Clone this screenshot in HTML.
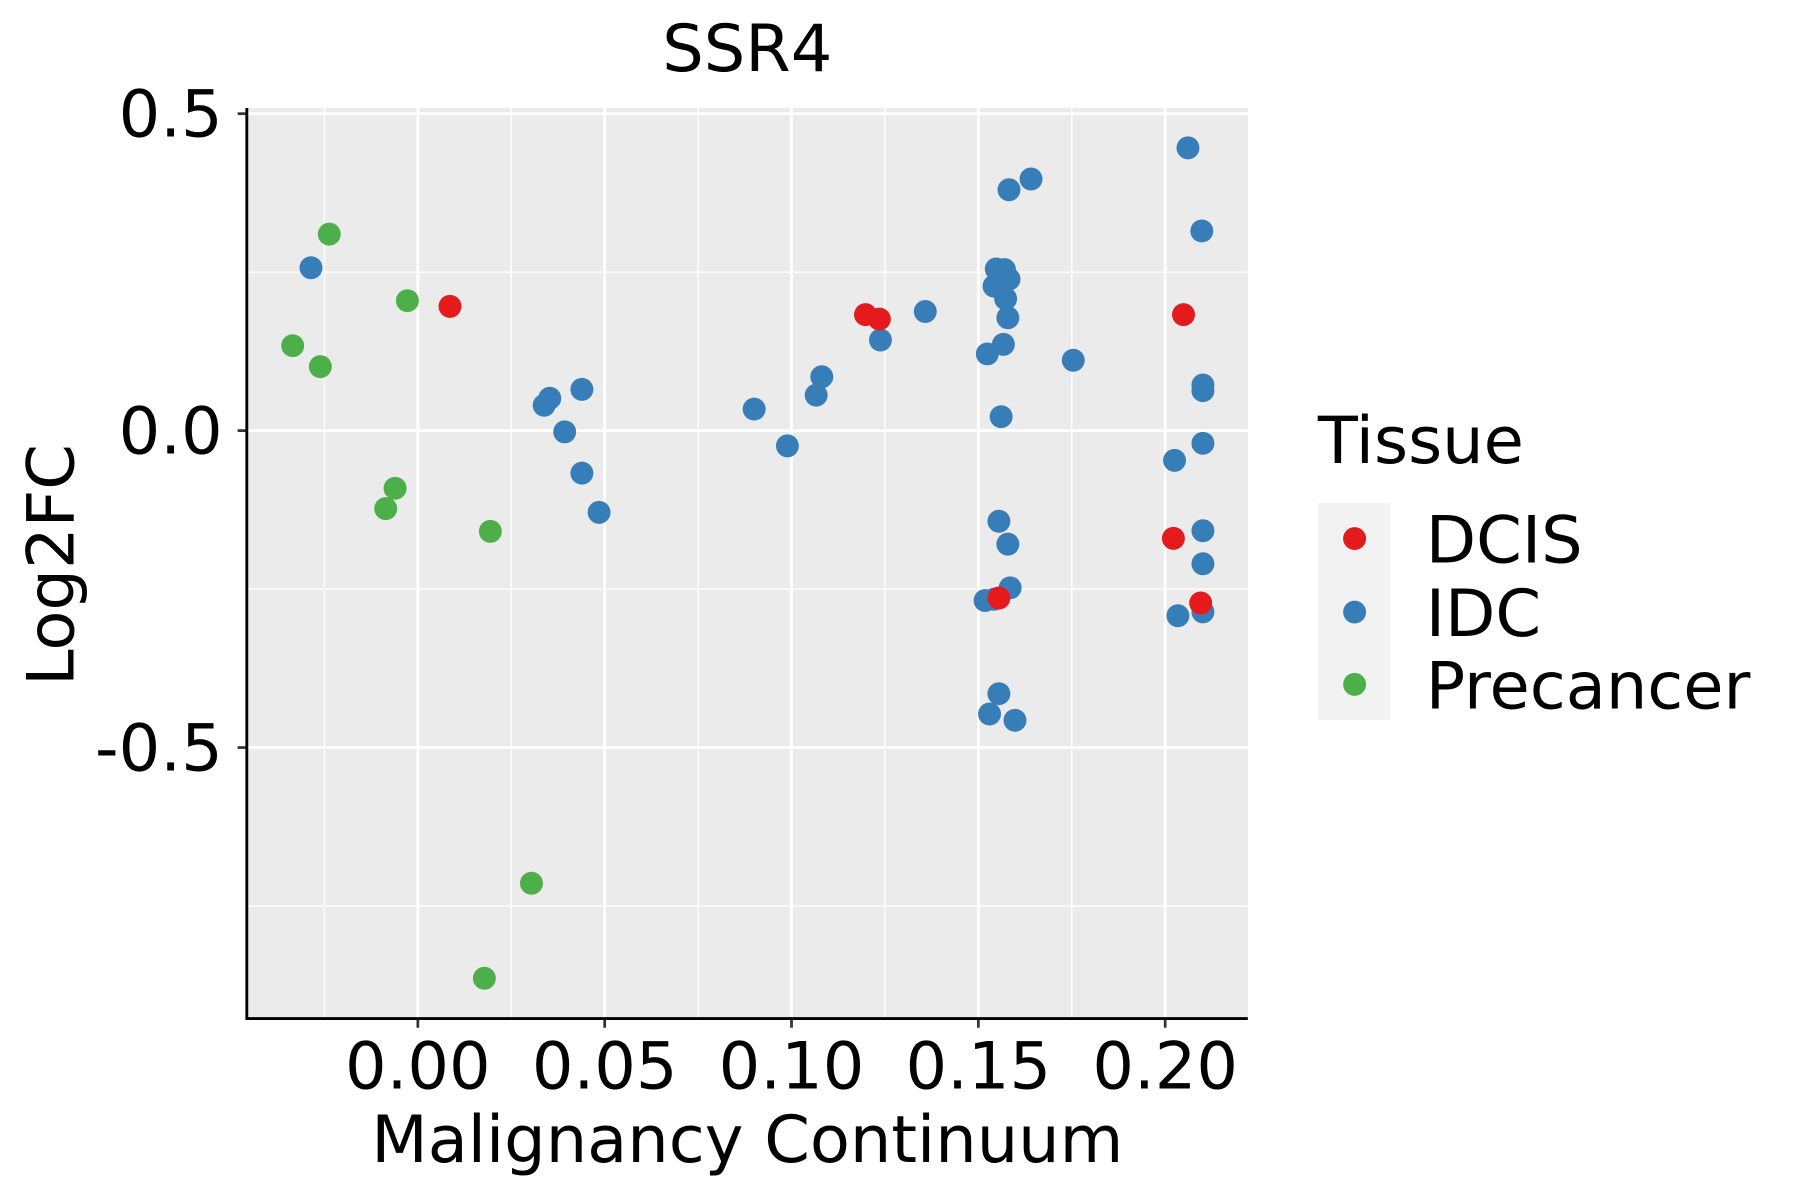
<!DOCTYPE html>
<html><head><meta charset="utf-8"><style>
html,body{margin:0;padding:0;background:#fff;}
svg{display:block;}
text{font-family:"DejaVu Sans","Liberation Sans",sans-serif;fill:#000;}
</style></head><body>
<svg id="chart" width="1800" height="1200" viewBox="0 0 1568 1045" preserveAspectRatio="none" xmlns="http://www.w3.org/2000/svg">
<rect x="214" y="94" width="873" height="793" fill="#ebebeb"/>
<g id="grid"></g>
<g id="points"></g>
<line x1="215" y1="94" x2="215" y2="888" stroke="#000" stroke-width="2.5"/>
<line x1="214" y1="887" x2="1087" y2="887" stroke="#000" stroke-width="2.5"/>
<g id="axes"></g>
<text x="651" y="62" font-size="57" text-anchor="middle">SSR4</text>
<text x="651" y="1012" font-size="57" text-anchor="middle">Malignancy Continuum</text>
<text x="0" y="0" font-size="57" text-anchor="middle" transform="translate(64,492) rotate(-90)">Log2FC</text>
<g>
<text x="1148" y="403" font-size="57">Tissue</text>
<rect x="1148" y="438" width="63" height="189" fill="#f2f2f2"/>
<circle cx="1180" cy="469" r="10" fill="#e41a1c"/>
<circle cx="1180" cy="533" r="10" fill="#377eb8"/>
<circle cx="1180" cy="596" r="10" fill="#4daf4a"/>
<text x="1242" y="490" font-size="57">DCIS</text>
<text x="1242" y="554" font-size="57">IDC</text>
<text x="1242" y="617" font-size="57">Precancer</text>
</g>
</svg>
<script>
const xTicks = [0.00, 0.05, 0.10, 0.15, 0.20];
const xTickLabels = ["0.00", "0.05", "0.10", "0.15", "0.20"];
const yTicks = [0.5, 0.0, -0.5];
const yTickLabels = ["0.5", "0.0", "-0.5"];
const precancerX = [-0.0335, -0.0237, -0.0261, -0.0028, -0.0061, -0.0086, 0.0194, 0.0304, 0.0178];
const precancerY = [0.134, 0.310, 0.101, 0.205, -0.091, -0.123, -0.159, -0.714, -0.864];
const idcX = [-0.0286, 0.0338, 0.0353, 0.0393, 0.0439, 0.0439, 0.0485, 0.0900, 0.0989, 0.1066, 0.1081, 0.1238, 0.1358, 0.2061, 0.1641, 0.1582, 0.2098, 0.1548, 0.1570, 0.1542, 0.1582, 0.1573, 0.1579, 0.1567, 0.1524, 0.1754, 0.2101, 0.2101, 0.1561, 0.2101, 0.2025, 0.1555, 0.1579, 0.2101, 0.2101, 0.1585, 0.1518, 0.1542, 0.2034, 0.2101, 0.1555, 0.1530, 0.1598];
const idcY = [0.257, 0.040, 0.051, -0.002, 0.065, -0.067, -0.129, 0.034, -0.024, 0.056, 0.085, 0.143, 0.188, 0.446, 0.397, 0.380, 0.315, 0.255, 0.254, 0.228, 0.239, 0.208, 0.178, 0.136, 0.121, 0.111, 0.072, 0.063, 0.022, -0.020, -0.047, -0.143, -0.179, -0.158, -0.210, -0.248, -0.268, -0.266, -0.292, -0.286, -0.415, -0.447, -0.457];
const dcisX = [0.0086, 0.1198, 0.1235, 0.2049, 0.1555, 0.2022, 0.2095];
const dcisY = [0.196, 0.183, 0.176, 0.183, -0.264, -0.170, -0.272];

const NS = "http://www.w3.org/2000/svg";
function xs(v){ return 364 + 3255 * v; }
function ys(v){ return 375 - 552 * v; }
function mk(tag, attrs, parent){
  const e = document.createElementNS(NS, tag);
  for (const k in attrs) e.setAttribute(k, attrs[k]);
  parent.appendChild(e);
  return e;
}
const grid = document.getElementById('grid');
const axes = document.getElementById('axes');
const pts = document.getElementById('points');
const xMinor = [-0.025, 0.025, 0.075, 0.125, 0.175];
xMinor.forEach(v => {
  const l = mk('line', {x1: xs(v), x2: xs(v), y1: 94, y2: 887, stroke: '#fff', 'stroke-width': 1.2}, grid);
  
  
});
const yMinor = [0.25, -0.25, -0.75];
yMinor.forEach(v => {
  const l = mk('line', {x1: 214, x2: 1087, y1: ys(v), y2: ys(v), stroke: '#fff', 'stroke-width': 1.2}, grid);
  
  
});
xTicks.forEach((v, i) => {
  const l = mk('line', {x1: xs(v), x2: xs(v), y1: 94, y2: 887, stroke: '#fff', 'stroke-width': 2.4}, grid);
  
  
  const t = mk('line', {x1: xs(v), x2: xs(v), y1: 888, y2: 895, stroke: '#333', 'stroke-width': 2.4}, axes);
  
  
  const tx = mk('text', {x: xs(v), y: 948, 'font-size': 57, 'text-anchor': 'middle'}, axes);
  tx.textContent = xTickLabels[i];
  
  
});
yTicks.forEach((v, i) => {
  const l = mk('line', {x1: 214, x2: 1087, y1: ys(v), y2: ys(v), stroke: '#fff', 'stroke-width': 2.4}, grid);
  
  
  const t = mk('line', {x1: 207, x2: 214, y1: ys(v), y2: ys(v), stroke: '#333', 'stroke-width': 2.4}, axes);
  
  
  const tx = mk('text', {x: 194, y: ys(v) + 20, 'font-size': 57, 'text-anchor': 'end'}, axes);
  tx.textContent = yTickLabels[i];
  
  
});
function drawSeries(X, Y, color, name){
  X.forEach((v, i) => {
    const c = mk('circle', {cx: xs(v), cy: ys(Y[i]), r: 10, fill: color}, pts);
    
    
  });
}
drawSeries(precancerX, precancerY, '#4daf4a', 'point-precancer');
drawSeries(idcX, idcY, '#377eb8', 'point-idc');
drawSeries(dcisX, dcisY, '#e41a1c', 'point-dcis');
</script>
</body></html>
